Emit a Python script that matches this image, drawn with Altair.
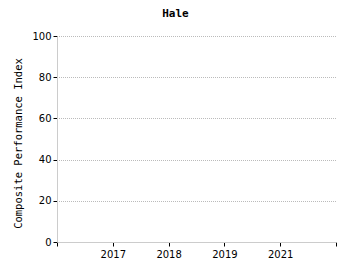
import altair as alt
import pandas as pd

years = ["2017", "2018", "2019", "2021"]
values = [None, None, None, None]
y_ticks = [0, 20, 40, 60, 80, 100]

df = pd.DataFrame({"pos": list(range(1, len(years) + 1)), "year": years, "value": values})
labels = [""] + years + [""]
label_expr = "[" + ",".join("'" + s + "'" for s in labels) + "][datum.value]"

chart = alt.Chart(df).mark_line(color="#1f77b4").encode(
    x=alt.X("pos:Q",
            scale=alt.Scale(domain=[0, len(years) + 1], nice=False),
            axis=alt.Axis(title=None, values=list(range(len(years) + 2)), labelExpr=label_expr,
                          grid=False, domainColor="#cccccc", tickColor="#000000", tickSize=4,
                          labelFont="DejaVu Sans", labelFontSize=10, labelColor="#000000",
                          labelPadding=3)),
    y=alt.Y("value:Q",
            scale=alt.Scale(domain=[0, 100]),
            axis=alt.Axis(title="Composite Performance Index", values=y_ticks,
                          grid=True, gridDash=[1, 1], gridDashOffset=0.5, gridColor="#bbbbbb",
                          domainColor="#cccccc", tickColor="#000000", tickSize=4,
                          labelFont="DejaVu Sans", labelFontSize=10, labelColor="#000000",
                          titleFont="DejaVu Sans Mono", titleFontSize=10.5, titleFontWeight="normal",
                          titleColor="#000000", titleX=-34, titleY=107)),
).properties(
    width=279, height=206,
    title=alt.TitleParams("Hale", font="DejaVu Sans Mono", fontSize=11, fontWeight="bold",
                          color="#000000", anchor="middle", dx=-21, offset=12),
    autosize=alt.AutoSizeParams(type="none"),
    padding={"left": 57, "top": 36, "right": 14, "bottom": 33},
).configure_view(stroke=None)

chart.save("out.html", embed_options={"renderer": "svg", "actions": False})
